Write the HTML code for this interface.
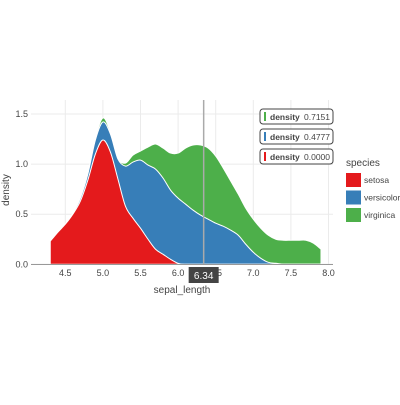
<!DOCTYPE html>
<html><head><meta charset="utf-8"><style>
body{margin:0;background:#fff;font-family:"Liberation Sans",sans-serif}
</style></head><body>
<svg width="400" height="400" id="c" xmlns="http://www.w3.org/2000/svg"></svg>
<script>
const xs=[4.3,4.4,4.5,4.6,4.7,4.8,4.9,5.0,5.1,5.2,5.3,5.4,5.5,5.6,5.7,5.8,5.9,6.0,6.1,6.2,6.3,6.4,6.5,6.6,6.7,6.8,6.9,7.0,7.1,7.2,7.3,7.4,7.5,7.6,7.7,7.8,7.9];
const setosa=[.23,.32,.4,.5,.63,.84,1.1,1.24,1.12,.85,.58,.46,.36,.25,.15,.1,.05,.01,0,0,0,0,0,0,0,0,0,0,0,0,0,0,0,0,0,0,0];
const versicolor=[0,0,0,.01,.03,.06,.14,.18,.18,.2,.4,.56,.68,.74,.8,.76,.69,.65,.6,.54,.49,.45,.41,.38,.34,.29,.2,.12,.06,.02,.01,0,0,0,0,0,0];
const virginica=[0,0,0,0,0,.01,.02,.04,.02,.01,.03,.07,.09,.18,.25,.3,.37,.45,.56,.65,.70,.71,.67,.58,.49,.41,.36,.33,.30,.27,.24,.24,.24,.24,.24,.21,.15];
const xTicks=[4.5,5.0,5.5,6.0,6.5,7.0,7.5,8.0];
const yTicks=[0,0.5,1.0,1.5];
const hoverX=6.34;
const hoverVals=["0.7151","0.4777","0.0000"];
const X=v=>65.3+(v-4.5)*75.2, Y=v=>264.3-v*100.2;
const svg=document.getElementById('c'),NS="http://www.w3.org/2000/svg";
function el(t,a,p){const e=document.createElementNS(NS,t);for(const k in a)e.setAttribute(k,a[k]);(p||svg).appendChild(e);return e;}
xTicks.forEach(t=>{const l=el('line',{x1:X(t),x2:X(t),y1:100,y2:264,stroke:'#ebebeb'});

const tx=el('text',{x:X(t),y:276,'font-size':9,fill:'#444','text-anchor':'middle'});tx.textContent=t.toFixed(1);
});
yTicks.forEach(t=>{const l=el('line',{x1:31,x2:333,y1:Y(t),y2:Y(t),stroke:'#ebebeb'});

const tx=el('text',{x:28,y:Y(t)+3,'font-size':9,fill:'#444','text-anchor':'end'});tx.textContent=t.toFixed(1);
});
const c1=setosa.slice(),c2=setosa.map((v,i)=>v+versicolor[i]),c3=c2.map((v,i)=>v+virginica[i]);
function smooth(pts){let d='';for(let i=0;i<pts.length-1;i++){const p0=pts[Math.max(i-1,0)],p1=pts[i],p2=pts[i+1],p3=pts[Math.min(i+2,pts.length-1)];
const b1=[p1[0]+(p2[0]-p0[0])/6,p1[1]+(p2[1]-p0[1])/6],b2=[p2[0]-(p3[0]-p1[0])/6,p2[1]-(p3[1]-p1[1])/6];
d+='C'+b1[0]+','+Math.min(b1[1],264.3)+' '+b2[0]+','+Math.min(b2[1],264.3)+' '+p2[0]+','+p2[1];}return d;}
function area(top,fill,name){const pts=xs.map((x,i)=>[X(x),Y(top[i])]);
let d='M'+X(xs[0])+','+Y(0)+'L'+pts[0][0]+','+pts[0][1]+smooth(pts)+'L'+X(xs[xs.length-1])+','+Y(0)+'Z';
const p=el('path',{d:d,fill:fill,stroke:'#fff','stroke-width':1});}
area(c3,'#4daf4a','virginica-area');area(c2,'#377eb8','versicolor-area');area(c1,'#e41a1c','setosa-area');
const ax=el('line',{x1:31,x2:333,y1:264.5,y2:264.5,stroke:'#999'});
const hl=el('line',{x1:X(hoverX),x2:X(hoverX),y1:100,y2:264,stroke:'#aaa','stroke-width':1.5});
const hb=el('rect',{x:X(hoverX)-15,y:267,width:30,height:16,fill:'#444'});
const ht=el('text',{x:X(hoverX),y:279,'font-size':10,fill:'#fff','text-anchor':'middle'});ht.textContent=hoverX.toFixed(2);
['#4daf4a','#377eb8','#e41a1c'].forEach((c,i)=>{const y=109+i*20;
const g=el('g',{});
el('rect',{x:260,y:y,width:73,height:15,rx:3,fill:'#fff',stroke:'#444'},g);
el('rect',{x:264,y:y+3,width:2,height:9,fill:c},g);
const a=el('text',{x:270,y:y+11,'font-size':8.5,'font-weight':'bold',fill:'#444'},g);a.textContent='density';
const b=el('text',{x:304,y:y+11,'font-size':8.5,fill:'#444'},g);b.textContent=hoverVals[i];});
const xt=el('text',{x:182,y:293,'font-size':10,fill:'#444','text-anchor':'middle'});xt.textContent='sepal_length';
const yt=el('text',{x:0,y:0,'font-size':10,fill:'#444','text-anchor':'middle',transform:'translate(9,190) rotate(-90)'});yt.textContent='density';
const lt=el('text',{x:346,y:166,'font-size':10,fill:'#444'});lt.textContent='species';
[['setosa','#e41a1c'],['versicolor','#377eb8'],['virginica','#4daf4a']].forEach((s,i)=>{const y=173+i*17.5;
const g=el('g',{});
el('rect',{x:346,y:y,width:15,height:14,fill:s[1]},g);
const t=el('text',{x:364,y:y+10,'font-size':8.5,fill:'#444'},g);t.textContent=s[0];});
</script></body></html>
